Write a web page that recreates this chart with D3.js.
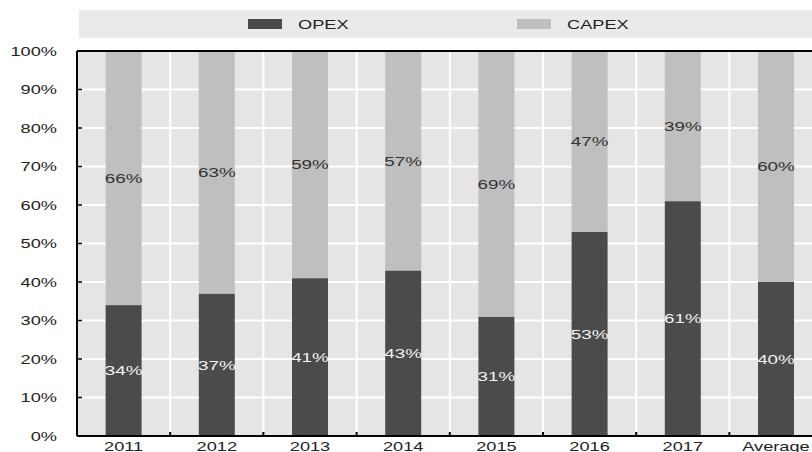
<!DOCTYPE html>
<html>
<head>
<meta charset="utf-8">
<script src="https://cdn.jsdelivr.net/npm/d3@7"></script>
<style>
body{margin:0;background:#fff;}
text{font-family:"Liberation Sans",Arial,sans-serif;}
</style>
</head>
<body>
<div id="chart"></div>
<script>
//chart data
var categories=["2011","2012","2013","2014","2015","2016","2017","Average"];
var opex=[34,37,41,43,31,53,61,40];
var capex=[66,63,59,57,69,47,39,60];
var yTicks=[0,10,20,30,40,50,60,70,80,90,100];
var seriesNames=["OPEX","CAPEX"];
var seriesColors=["#4b4b4b","#bfbfbf"];

//set size
var svgWidth=812;
var svgHeight=452;

//plot area (runs off the right edge like the original)
var margin={top:51,left:77,bottom:16};
var step=93.2;
var width=step*categories.length;
var height=svgHeight-margin.top-margin.bottom;

//text is stretched sideways in the original
var sx=1.4;
var sxLabel=1.45;

var svg=d3.select("#chart")
    .append("svg")
    .attr("width",svgWidth)
    .attr("height",svgHeight);

//stack the two series
var rows=categories.map(function(c,i){
    return {cat:c,OPEX:opex[i],CAPEX:capex[i]};
});
var stacked=d3.stack().keys(seriesNames).offset(d3.stackOffsetExpand)(rows);

var xScale=d3.scaleBand()
    .domain(categories)
    .range([0,width])
    .paddingInner(0.614)
    .paddingOuter(0.307);

var yScale=d3.scaleLinear()
    .domain([0,1])
    .range([height,0]);

//legend band
var legend=svg.append("g");
legend.append("rect")
    .attr("x",79)
    .attr("y",10)
    .attr("width",svgWidth)
    .attr("height",28)
    .attr("fill","#eaeaea");

var legendX=[248,517];
seriesNames.forEach(function(name,i){
    legend.append("rect")
        .attr("x",legendX[i])
        .attr("y",19)
        .attr("width",34)
        .attr("height",10)
        .attr("fill",seriesColors[i]);
    legend.append("text")
        .attr("transform",`translate(${legendX[i]+50},29) scale(${sx},1)`)
        .attr("font-size","13px")
        .attr("fill","#222")
        .text(name);
});

var chartGroup=svg.append("g")
    .attr("transform",`translate(${margin.left},${margin.top})`);

//plot background
chartGroup.append("rect")
    .attr("width",width)
    .attr("height",height)
    .attr("fill","#e5e5e5");

//horizontal gridlines
chartGroup.selectAll(".hgrid")
    .data(yTicks.slice(1,-1))
    .enter()
    .append("line")
    .attr("x1",0)
    .attr("x2",width)
    .attr("y1",d=>yScale(d/100))
    .attr("y2",d=>yScale(d/100))
    .attr("stroke","#fff")
    .attr("stroke-width",2);

//vertical gridlines between categories
chartGroup.selectAll(".vgrid")
    .data(categories.slice(1))
    .enter()
    .append("line")
    .attr("x1",d=>xScale(d)-xScale.step()*xScale.paddingInner()/2)
    .attr("x2",d=>xScale(d)-xScale.step()*xScale.paddingInner()/2)
    .attr("y1",0)
    .attr("y2",height)
    .attr("stroke","#fff")
    .attr("stroke-width",2);

//bars
var layers=chartGroup.selectAll(".layer")
    .data(stacked)
    .enter()
    .append("g")
    .attr("fill",(d,i)=>seriesColors[i]);

layers.selectAll("rect")
    .data(d=>d)
    .enter()
    .append("rect")
    .attr("x",d=>xScale(d.data.cat))
    .attr("y",d=>yScale(d[1]))
    .attr("width",xScale.bandwidth())
    .attr("height",d=>yScale(d[0])-yScale(d[1]));

//value labels in the middle of each segment
var labelColors=["#f2f2f2","#333"];
stacked.forEach(function(layer,li){
    chartGroup.selectAll(null)
        .data(layer)
        .enter()
        .append("text")
        .attr("transform",d=>`translate(${xScale(d.data.cat)+xScale.bandwidth()/2},${yScale((d[0]+d[1])/2)}) scale(${sxLabel},1)`)
        .attr("text-anchor","middle")
        .attr("dominant-baseline","central")
        .attr("font-size","13px")
        .attr("fill",labelColors[li])
        .text(d=>d.data[layer.key]+"%");
});

//y axis
var leftAxis=chartGroup.append("g");
leftAxis.append("line")
    .attr("x1",0).attr("x2",0)
    .attr("y1",0).attr("y2",height)
    .attr("stroke","#000")
    .attr("stroke-width",2);
leftAxis.selectAll(".ytick")
    .data(yTicks)
    .enter()
    .append("line")
    .attr("x1",0)
    .attr("x2",5)
    .attr("y1",d=>yScale(d/100))
    .attr("y2",d=>yScale(d/100))
    .attr("stroke","#000")
    .attr("stroke-width",1.5);
leftAxis.selectAll("text")
    .data(yTicks)
    .enter()
    .append("text")
    .attr("transform",d=>`translate(-20,${yScale(d/100)}) scale(${sx},1)`)
    .attr("text-anchor","end")
    .attr("dominant-baseline","central")
    .attr("font-size","13px")
    .attr("fill","#222")
    .text(d=>d+"%");

//top border
chartGroup.append("line")
    .attr("x1",0).attr("x2",width)
    .attr("y1",0).attr("y2",0)
    .attr("stroke","#000")
    .attr("stroke-width",2);

//x axis
var bottomAxis=chartGroup.append("g")
    .attr("transform",`translate(0,${height})`);
bottomAxis.append("line")
    .attr("x1",0).attr("x2",width)
    .attr("stroke","#000")
    .attr("stroke-width",2);
bottomAxis.selectAll(".xtick")
    .data(categories.slice(1))
    .enter()
    .append("line")
    .attr("x1",d=>xScale(d)-xScale.step()*xScale.paddingInner()/2)
    .attr("x2",d=>xScale(d)-xScale.step()*xScale.paddingInner()/2)
    .attr("y1",0)
    .attr("y2",-4)
    .attr("stroke","#000")
    .attr("stroke-width",2);
bottomAxis.selectAll("text")
    .data(categories)
    .enter()
    .append("text")
    .attr("transform",d=>`translate(${xScale(d)+xScale.bandwidth()/2},14.5) scale(${sx},1)`)
    .attr("text-anchor","middle")
    .attr("font-size","13px")
    .attr("fill","#222")
    .text(d=>d);
</script>
</body>
</html>
